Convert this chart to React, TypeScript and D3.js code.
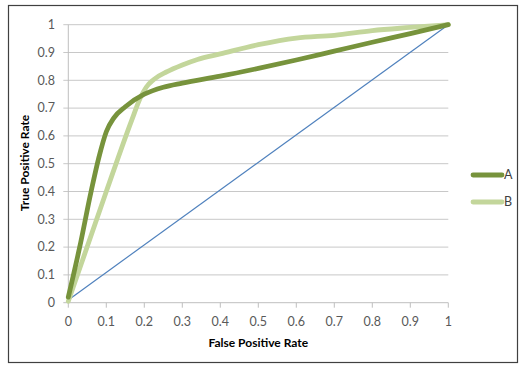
import React from "react";
import * as d3 from "d3";

const seriesNames = ["A", "B"];
const seriesColors = ["#77933C", "#C3D69B"];
const fprA = [0, 0.03, 0.06, 0.08, 0.1, 0.12, 0.15, 0.2, 0.25, 0.3, 0.4, 0.5, 0.6, 0.7, 0.8, 0.9, 1];
const tprA = [0.02, 0.2, 0.4, 0.52, 0.615, 0.665, 0.705, 0.75, 0.775, 0.79, 0.815, 0.843, 0.873, 0.905, 0.937, 0.968, 1];
const fprB = [0, 0.1, 0.167, 0.19, 0.205, 0.225, 0.26, 0.3, 0.34, 0.4, 0.5, 0.6, 0.7, 0.8, 0.9, 1];
const tprB = [0.005, 0.4, 0.657, 0.738, 0.775, 0.803, 0.831, 0.855, 0.875, 0.895, 0.928, 0.952, 0.962, 0.979, 0.99, 1];
const diagX = [0, 1];
const diagY = [0.01, 1];
const ticks = [0, 0.1, 0.2, 0.3, 0.4, 0.5, 0.6, 0.7, 0.8, 0.9, 1];
const tickLabels = ["0", "0.1", "0.2", "0.3", "0.4", "0.5", "0.6", "0.7", "0.8", "0.9", "1"];

const W = 525, H = 367;
const x = d3.scaleLinear().domain([0, 1]).range([68.3, 448.3]);
const y = d3.scaleLinear().domain([0, 1]).range([302.7, 24.7]);
const font = "Lato, 'Liberation Sans', sans-serif";

function makeLine(xs: number[], ys: number[], smooth: boolean) {
  const pts = xs.map((v, i) => [v, ys[i]] as [number, number]);
  const l = d3.line<[number, number]>().x(d => x(d[0])).y(d => y(d[1]));
  if (smooth) l.curve(d3.curveMonotoneX);
  return l(pts) || "";
}

export default function App() {
  const series = [
    { name: seriesNames[0], color: seriesColors[0], d: makeLine(fprA, tprA, true) },
    { name: seriesNames[1], color: seriesColors[1], d: makeLine(fprB, tprB, true) },
  ];
  return (
    <svg width={W} height={H} style={{ position: "absolute", left: 0, top: 0, background: "#fff" }}>
      <rect x={8.5} y={5.5} width={509} height={357} fill="#fff" stroke="#404040" strokeWidth={1.2} />
      {ticks.map((t, i) => (
        <g key={"gy" + i}>
          {t > 0 && (
            <line x1={x(0) - 5} x2={x(1)} y1={y(t)} y2={y(t)} stroke="#c8c8c8" strokeWidth={1} />
          )}
          <text x={55} y={y(t)} dy="0.35em" textAnchor="end" fontFamily={font} fontSize={12.5} fill="#595959">
            {tickLabels[i]}
          </text>
        </g>
      ))}
      <line x1={x(0)} x2={x(0)} y1={y(0)} y2={y(1)} stroke="#bfbfbf" strokeWidth={1} />
      <line x1={x(0) - 5} x2={x(1)} y1={y(0)} y2={y(0)} stroke="#bfbfbf" strokeWidth={1} />
      {ticks.map((t, i) => (
        <g key={"gx" + i}>
          <line x1={x(t)} x2={x(t)} y1={y(0)} y2={y(0) + 5} stroke="#bfbfbf" strokeWidth={1} />
          <text x={x(t)} y={y(0) + 19} dy="0.35em" textAnchor="middle" fontFamily={font} fontSize={12.5} fill="#595959">
            {tickLabels[i]}
          </text>
        </g>
      ))}
      <path d={makeLine(diagX, diagY, false)} fill="none" stroke="#4F81BD" strokeWidth={1.2} />
      {series.slice().reverse().map(s => (
        <path key={s.name} d={s.d} fill="none" stroke={s.color} strokeWidth={4.8} strokeLinejoin="round" strokeLinecap="round" />
      ))}
      <text x={258.3} y={343} dy="0.35em" textAnchor="middle" fontFamily={font} fontSize={12} fontWeight="bold" fill="#000">
        False Positive Rate
      </text>
      <text transform={`translate(25,163) rotate(-90)`} dy="0.35em" textAnchor="middle" fontFamily={font} fontSize={12} fontWeight="bold" fill="#000">
        True Positive Rate
      </text>
      {series.map((s, i) => (
        <g key={"lg" + i}>
          <line x1={473} x2={502} y1={175 + i * 27} y2={175 + i * 27} stroke={s.color} strokeWidth={4.8} strokeLinecap="round" />
          <text x={504} y={175 + i * 27} dy="0.35em" fontFamily={font} fontSize={12.5} fill="#404040">
            {s.name}
          </text>
        </g>
      ))}
    </svg>
  );
}
